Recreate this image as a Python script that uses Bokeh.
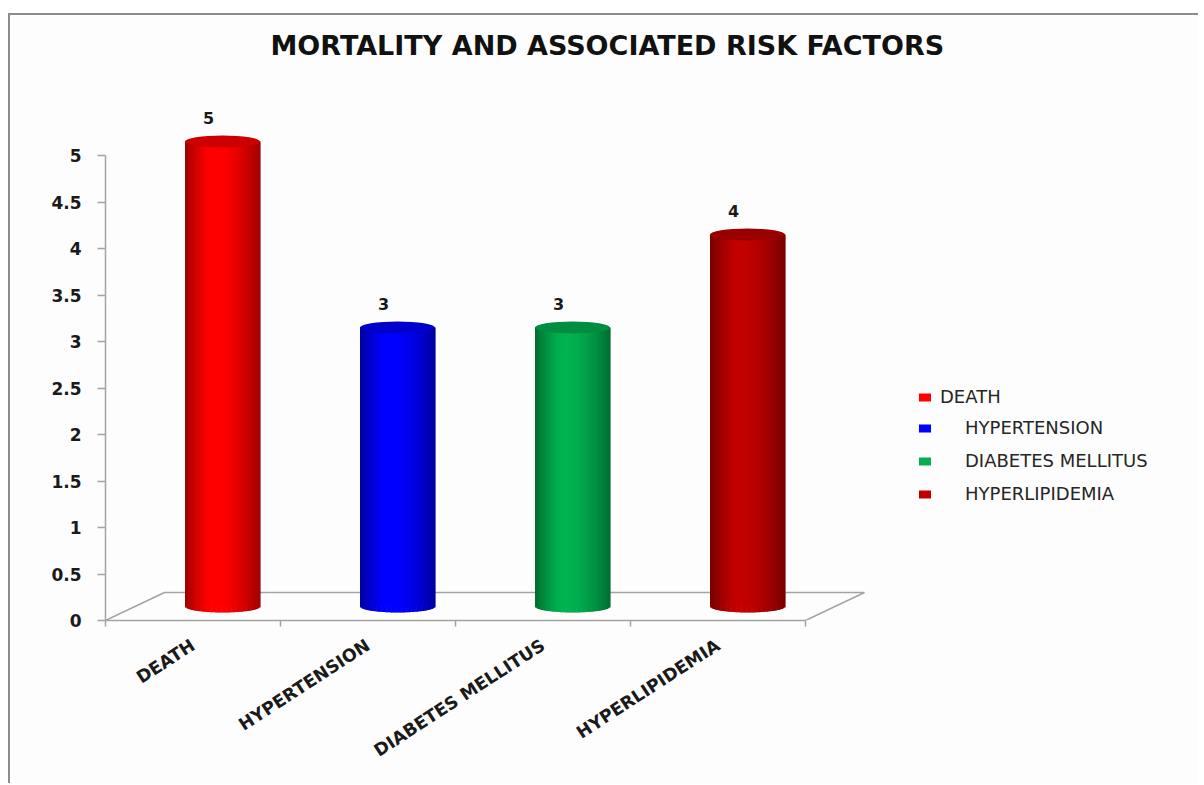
import math

import numpy as np
from bokeh.core.properties import value
from bokeh.embed import file_html
from bokeh.models import ColumnDataSource, FixedTicker, Legend, LegendItem, Range1d
from bokeh.plotting import figure
from bokeh.resources import INLINE

# ---- data -------------------------------------------------------------
categories = ["DEATH", "HYPERTENSION", "DIABETES MELLITUS", "HYPERLIPIDEMIA"]
counts = [5, 3, 3, 4]
colors = ["#FF0000", "#0000FF", "#00B050", "#C00000"]
y_ticks = [0, 0.5, 1, 1.5, 2, 2.5, 3, 3.5, 4, 4.5, 5]
y_tick_labels = ["0", "0.5", "1", "1.5", "2", "2.5", "3", "3.5", "4", "4.5", "5"]
title_text = "MORTALITY AND ASSOCIATED RISK FACTORS"

# ---- geometry (pixels) ------------------------------------------------
PX_PER_CAT = 175          # width of one category slot
PX_PER_UNIT = 93          # pixels per value unit
DEPTH_X, DEPTH_Y = 59, 28 # depth of the 3-D floor
CYL_RX, CYL_RY = 37.5, 6  # cylinder radii on screen

W, H = 1190, 770
LEFT, RIGHT, TOP, BOTTOM = 95, 10, 55, 165
frame_w = W - LEFT - RIGHT
frame_h = H - TOP - BOTTOM

FONT = "DejaVu Sans"
GRAY = "#A3A3A3"

p = figure(
    width=W, height=H, output_backend="svg", toolbar_location=None,
    x_range=Range1d(0, frame_w / PX_PER_CAT),
    y_range=Range1d(0, frame_h / PX_PER_UNIT),
    min_border_left=LEFT, min_border_right=RIGHT,
    min_border_top=TOP, min_border_bottom=BOTTOM,
)
p.styles = {
    "margin-left": "8px", "margin-top": "13px",
    "border-left": "2px solid #8C8C8C", "border-top": "2px solid #8C8C8C",
}
p.grid.visible = False
p.outline_line_color = None
p.background_fill_color = "#FDFDFD"
p.border_fill_color = "#FDFDFD"

# title
p.title.text = title_text
p.title.align = "left"
p.title.offset = 165
p.title.text_font = FONT
p.title.text_font_style = "bold"
p.title.text_font_size = "27px"
p.title.text_color = "#111111"
p.title.standoff = 19

# category axis: labels at slot centres, ticks at slot boundaries
xa = p.xaxis[0]
n = len(categories)
xa.ticker = FixedTicker(ticks=[i + 0.5 for i in range(n)], minor_ticks=list(range(n + 1)))
xa.major_label_overrides = {i + 0.5: c for i, c in enumerate(categories)}
xa.bounds = (0, n)
xa.major_tick_in = 0
xa.major_tick_out = 0
xa.minor_tick_in = 0
xa.minor_tick_out = 6
xa.axis_line_color = GRAY
xa.axis_line_width = 1.5
xa.minor_tick_line_color = GRAY
xa.minor_tick_line_width = 1.5
xa.major_label_orientation = math.radians(33)
xa.major_label_standoff = 17
xa.major_label_text_font = FONT
xa.major_label_text_font_style = "bold"
xa.major_label_text_font_size = "17.5px"
xa.major_label_text_color = "#1A1A1A"

# value axis
ya = p.yaxis[0]
ya.ticker = FixedTicker(ticks=y_ticks)
ya.major_label_overrides = dict(zip(y_ticks, y_tick_labels))
ya.bounds = (0, max(y_ticks))
ya.major_tick_in = 0
ya.major_tick_out = 8
ya.minor_tick_line_color = None
ya.axis_line_color = GRAY
ya.axis_line_width = 1.5
ya.major_tick_line_color = GRAY
ya.major_tick_line_width = 1.5
ya.major_label_standoff = 16
ya.major_label_text_font = FONT
ya.major_label_text_font_style = "bold"
ya.major_label_text_font_size = "17px"
ya.major_label_text_color = "#1A1A1A"

# floor outline (left side, back edge, right side)
dxd = DEPTH_X / PX_PER_CAT
dyd = DEPTH_Y / PX_PER_UNIT
p.line(x=[0, dxd, n + dxd, n], y=[0, dyd, dyd, 0], line_color=GRAY, line_width=1.5)


def hex_to_rgb(h):
    h = h.lstrip("#")
    return np.array([int(h[i:i + 2], 16) for i in (0, 2, 4)], dtype=float)


def rgb_to_hex(rgb):
    r, g, b = (int(round(min(255, max(0, c)))) for c in rgb)
    return f"#{r:02X}{g:02X}{b:02X}"


def shade(t):
    """Brightness across a cylinder: dark rims, highlight left of centre."""
    peak = 0.42
    if t < peak:
        return 0.60 + 0.42 * math.sin(t / peak * math.pi / 2)
    return 1.02 - 0.40 * ((t - peak) / (1 - peak)) ** 1.6


n_strips = 60
edges = np.linspace(-1, 1, n_strips + 1)
mids = (edges[:-1] + edges[1:]) / 2
rx = CYL_RX / PX_PER_CAT
ry = CYL_RY / PX_PER_UNIT
base = dyd / 2
overlap = 0.6 / PX_PER_CAT

legend_renderers = []
for i, (v, c) in enumerate(zip(counts, colors)):
    cx = i + 0.5 + dxd / 2
    top = base + v
    rgb = hex_to_rgb(c)

    body = p.quad(left=[cx - rx], right=[cx + rx], bottom=[base], top=[top],
                  fill_color=c, line_color=None)
    legend_renderers.append(body)

    strips = ColumnDataSource(dict(
        left=cx + edges[:-1] * rx,
        right=cx + edges[1:] * rx + overlap,
        bottom=base - ry * np.sqrt(1 - mids ** 2),
        top=np.full(n_strips, top),
        color=[rgb_to_hex(rgb * shade((m + 1) / 2)) for m in mids],
    ))
    p.quad(left="left", right="right", bottom="bottom", top="top", source=strips,
           fill_color="color", line_color=None)

    p.ellipse(x=[cx], y=[top], width=[2 * rx], height=[2 * ry],
              fill_color=rgb_to_hex(rgb * 0.80), line_color=None)

    p.text(x=[cx - 14 / PX_PER_CAT], y=[top + 24 / PX_PER_UNIT], text=[str(v)],
           text_align="center", text_baseline="middle",
           text_font=value(FONT), text_font_style="bold", text_font_size="16px",
           text_color="#1A1A1A")

# legend (first entry sits closer to its swatch)
legend_style = dict(
    glyph_width=15, glyph_height=10, label_height=20, spacing=12,
    padding=0, margin=0, border_line_color=None, background_fill_alpha=0,
    label_text_font=FONT, label_text_font_size="18px", label_text_color="#262626",
)
leg1 = Legend(items=[LegendItem(label=categories[0], renderers=[legend_renderers[0]])],
              location=(812, 213), label_standoff=8, **legend_style)
leg2 = Legend(items=[LegendItem(label=categories[k], renderers=[legend_renderers[k]])
                     for k in range(1, n)],
              location=(812, 116), label_standoff=33, **legend_style)
p.add_layout(leg1)
p.add_layout(leg2)

open("out.html", "w").write(file_html(p, INLINE))
